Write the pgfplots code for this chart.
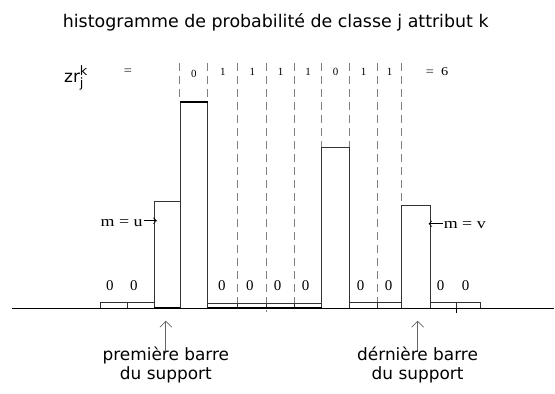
\documentclass[border=0pt]{standalone}
\usepackage{pgfplots}
\pgfplotsset{compat=1.18}
\usepackage{fontspec}
\setmainfont{Liberation Serif}
\newfontfamily\sans{DejaVu Sans}
\newfontfamily\wserif[FakeStretch=1.2]{Liberation Serif}
\usetikzlibrary{arrows.meta}
\begin{document}
\begin{tikzpicture}
\begin{axis}[
  x=1bp, y=1bp,
  xmin=0, xmax=555, ymin=-85, ymax=309,
  hide axis, clip=false,
]
% bounding rectangle
\path (axis cs:0,-85) rectangle (axis cs:555,309);
% dashed guide lines
\addplot[gray, dash pattern=on 8bp off 5bp, line width=0.7pt] coordinates {(180,246)(180,207)};
\addplot[gray, dash pattern=on 8bp off 5bp, line width=0.7pt] coordinates {(208,246)(208,207)};
\addplot[gray, dash pattern=on 8bp off 5bp, line width=0.7pt] coordinates {(238,246)(238,0)};
\addplot[gray, dash pattern=on 8bp off 5bp, line width=0.7pt] coordinates {(267,246)(267,-3)};
\addplot[gray, dash pattern=on 8bp off 5bp, line width=0.7pt] coordinates {(295,246)(295,0)};
\addplot[gray, dash pattern=on 8bp off 5bp, line width=0.7pt] coordinates {(322,246)(322,162)};
\addplot[gray, dash pattern=on 8bp off 5bp, line width=0.7pt] coordinates {(350,246)(350,162)};
\addplot[gray, dash pattern=on 8bp off 5bp, line width=0.7pt] coordinates {(378,246)(378,5)};
\addplot[gray, dash pattern=on 8bp off 5bp, line width=0.7pt] coordinates {(402,246)(402,104)};
% histogram bars (left edges, heights)
\addplot[ybar interval, fill=white, draw=black!80, line width=0.6pt] coordinates {
(100,6)(127,6)(154,108)(180,207)(208,5)(238,5)(267,5)(295,5)(322,162)(350,6)(378,6)(402,104)(431,6)(457,6)(481,0)};
% thick segments
\addplot[black, line width=1.6pt] coordinates {(180,207)(208,207)};
\addplot[black, line width=1.4pt] coordinates {(154,0.6)(180,0.6)};
\addplot[black, line width=1.2pt] coordinates {(208,1)(322,1)};
\addplot[black, line width=1.2pt] coordinates {(100,0.6)(154,0.6)};
% baseline
\addplot[black, line width=1.1pt] coordinates {(12,0)(555,0)};
\addplot[black, line width=0.6pt] coordinates {(457,0)(457,-4)};
% up arrows
\addplot[gray!80!black, line width=0.7pt, -{Straight Barb[length=6bp,width=12bp]}] coordinates {(166,-43)(166,-12)};
\addplot[gray!80!black, line width=0.7pt, -{Straight Barb[length=6bp,width=12bp]}] coordinates {(418,-43)(418,-12)};
% m arrows
\addplot[black, line width=0.6pt, -{Straight Barb[length=3bp,width=6bp]}] coordinates {(144,88)(157,88)};
\addplot[black, line width=0.6pt, -{Straight Barb[length=3bp,width=6bp]}] coordinates {(443,85)(429,85)};
% texts
\node[font=\sans\fontsize{17.5}{20}\selectfont, anchor=base] at (axis cs:276,281) {histogramme de probabilité de classe j attribut k};
\node[font=\sans\fontsize{17}{20}\selectfont, anchor=base west, inner sep=0pt] at (axis cs:64,226) {zr\rlap{\raisebox{7bp}{\fontsize{13}{14}\selectfont k}}\raisebox{-5bp}{\fontsize{13}{14}\selectfont j}};
\node[font=\wserif\fontsize{12}{12}\selectfont, anchor=base] at (axis cs:128,234) {=};
\node[font=\wserif\fontsize{12}{12}\selectfont, anchor=base west, inner sep=0pt] at (axis cs:426,233) {=\ \ 6};
\node[font=\fontsize{11}{12}\selectfont, anchor=base] at (axis cs:194,231) {0};
\node[font=\fontsize{11}{12}\selectfont, anchor=base] at (axis cs:223,233) {1};
\node[font=\fontsize{11}{12}\selectfont, anchor=base] at (axis cs:252.5,233) {1};
\node[font=\fontsize{11}{12}\selectfont, anchor=base] at (axis cs:281,233) {1};
\node[font=\fontsize{11}{12}\selectfont, anchor=base] at (axis cs:308.5,233) {1};
\node[font=\fontsize{11}{12}\selectfont, anchor=base] at (axis cs:336,233) {0};
\node[font=\fontsize{11}{12}\selectfont, anchor=base] at (axis cs:364,233) {1};
\node[font=\fontsize{11}{12}\selectfont, anchor=base] at (axis cs:390,233) {1};
\node[font=\fontsize{15}{16}\selectfont, anchor=base] at (axis cs:110,18) {0};
\node[font=\fontsize{15}{16}\selectfont, anchor=base] at (axis cs:134,18) {0};
\node[font=\fontsize{15}{16}\selectfont, anchor=base] at (axis cs:222,18) {0};
\node[font=\fontsize{15}{16}\selectfont, anchor=base] at (axis cs:250,18) {0};
\node[font=\fontsize{15}{16}\selectfont, anchor=base] at (axis cs:278,18) {0};
\node[font=\fontsize{15}{16}\selectfont, anchor=base] at (axis cs:306,18) {0};
\node[font=\fontsize{15}{16}\selectfont, anchor=base] at (axis cs:361,18) {0};
\node[font=\fontsize{15}{16}\selectfont, anchor=base] at (axis cs:389,18) {0};
\node[font=\fontsize{15}{16}\selectfont, anchor=base] at (axis cs:441,18) {0};
\node[font=\fontsize{15}{16}\selectfont, anchor=base] at (axis cs:466,18) {0};
\node[font=\wserif\fontsize{15}{16}\selectfont, anchor=base east, inner sep=0pt] at (axis cs:143,82) {m = u};
\node[font=\wserif\fontsize{15}{16}\selectfont, anchor=base west, inner sep=0pt] at (axis cs:444,80) {m = v};
\node[font=\sans\fontsize{17}{20}\selectfont, anchor=base] at (axis cs:166,-52) {première barre};
\node[font=\sans\fontsize{17}{20}\selectfont, anchor=base] at (axis cs:166,-71) {du support};
\node[font=\sans\fontsize{17}{20}\selectfont, anchor=base] at (axis cs:418,-52) {dérnière barre};
\node[font=\sans\fontsize{17}{20}\selectfont, anchor=base] at (axis cs:418,-71) {du support};
\end{axis}
\end{tikzpicture}
\end{document}
